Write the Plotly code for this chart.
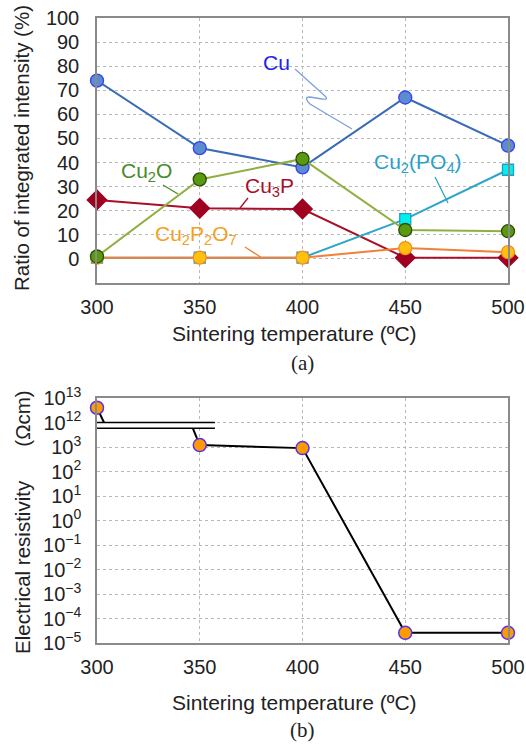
import plotly.graph_objects as go
import math

W, H = 526, 745

# ---------------- data ----------------
temps = [300, 350, 400, 450, 500]
cu = [74, 46, 38, 67, 47]
cu2o = [1, 33, 41.5, 12, 11.5]
cu3p = [24.5, 21, 20.7, 0.5, 0.5]
cu2po4 = [0.5, 0.5, 0.5, 16.5, 37]
cu2p2o7 = [0.5, 0.5, 0.5, 4.5, 2.8]

resist = [4e12, 1.2e3, 9e2, 2.6e-5, 2.6e-5]
ratio_ticks = list(range(0, 101, 10))
res_tick_exps = [-5, -4, -3, -2, -1, 0, 1, 2, 3, 12, 13]

# broken log axis: decades above the break are shifted down by 8
BREAK_SHIFT = 8
def pos(v):
    e = math.log10(v)
    return e - BREAK_SHIFT if e > 3.5 else e

def exp_pos(e):
    return e - BREAK_SHIFT if e > 3.5 else e

def sup(e):
    s = str(e).replace("-", "\u2212")
    return f"10<sup>{s}</sup>"

# pixel -> paper helpers
def px(x):
    return x / W
def py(y):
    return 1 - y / H

FONT = "Liberation Sans, Arial, sans-serif"

fig = go.Figure()

def add(y, name, lc, mfill, mline, sym, size):
    fig.add_trace(go.Scatter(
        x=temps, y=y, name=name, mode="lines+markers",
        line=dict(color=lc, width=2),
        marker=dict(symbol=sym, size=size, color=mfill, line=dict(color=mline, width=1.3)),
        xaxis="x", yaxis="y", showlegend=False, cliponaxis=False))

add(cu3p, "Cu3P", "#a8102a", "#a00020", "#a00020", "diamond", 15)
add(cu2po4, "Cu2(PO4)", "#2fa5c8", "#00f0f0", "#20a0c0", "square", 11)
add(cu2p2o7, "Cu2P2O7", "#f0803a", "#ffc010", "#f09020", "circle", 13)
add(cu, "Cu", "#3a6bb5", "#5b8bd0", "#3344ee", "circle", 13)
add(cu2o, "Cu2O", "#8fb040", "#5a9a10", "#2d4d05", "circle", 13)

# bottom chart
res_pos = [pos(v) for v in resist]
BREAK_HI = 4.0
BREAK_LO = 3.77
# line, interrupted by the axis break between 300 and 350
fig.add_trace(go.Scatter(
    x=[temps[0], 303.4, None, 346.6, temps[1]],
    y=[res_pos[0], BREAK_HI, None, BREAK_LO, res_pos[1]],
    mode="lines", line=dict(color="black", width=2),
    xaxis="x2", yaxis="y2", showlegend=False, cliponaxis=False))
fig.add_trace(go.Scatter(
    x=temps[1:], y=res_pos[1:], mode="lines",
    line=dict(color="black", width=2),
    xaxis="x2", yaxis="y2", showlegend=False, cliponaxis=False))
fig.add_trace(go.Scatter(
    x=temps, y=res_pos, mode="markers",
    marker=dict(symbol="circle", size=13, color="#ff9a00", line=dict(color="#5533ee", width=1.5)),
    xaxis="x2", yaxis="y2", showlegend=False, cliponaxis=False))

xdom = [px(97), px(508)]
axis_common = dict(
    showline=True, mirror=True, linecolor="#8a8a8a", linewidth=1.5,
    showgrid=True, gridcolor="#b8b8b8", griddash="dot", gridwidth=1,
    zeroline=False, ticks="", automargin=False,
    tickfont=dict(family=FONT, size=20, color="#222"),
)

fig.update_layout(
    width=W, height=H, margin=dict(l=0, r=0, t=0, b=0, autoexpand=False),
    paper_bgcolor="white", plot_bgcolor="white",
    xaxis=dict(domain=xdom, anchor="y", range=[300, 500], tickvals=temps,
               ticklabelstandoff=5, **axis_common),
    yaxis=dict(domain=[py(283), py(18)], anchor="x", range=[-10, 100],
               tickvals=ratio_ticks, ticklabelstandoff=12, **axis_common),
    xaxis2=dict(domain=xdom, anchor="y2", range=[300, 500], tickvals=temps,
                ticklabelstandoff=5, **axis_common),
    yaxis2=dict(domain=[py(643), py(398)], anchor="x2", range=[-5, 5],
                tickvals=[exp_pos(e) for e in res_tick_exps],
                ticktext=[sup(e) for e in res_tick_exps],
                ticklabelstandoff=10, **axis_common),
)

# axis break: white gap with two black lines
fig.add_shape(type="rect", xref="x2", yref="y2", x0=296.6, x1=357.4,
              y0=BREAK_LO, y1=BREAK_HI, fillcolor="white", line=dict(width=0), layer="above")
for yb in (BREAK_HI, BREAK_LO):
    fig.add_shape(type="line", xref="x2", yref="y2", x0=296.6, x1=357.4,
                  y0=yb, y1=yb, line=dict(color="black", width=1.5), layer="above")

# titles
def ann(text, x, y, size=21, color="#222", family=FONT, angle=0):
    fig.add_annotation(text=text, x=px(x), y=py(y), xref="paper", yref="paper",
                       showarrow=False, font=dict(family=family, size=size, color=color),
                       textangle=angle, xanchor="center", yanchor="middle")

ann("Ratio of integrated intensity (%)", 22, 148, size=20.5, angle=-90)
ann("Sintering temperature (\u00baC)", 294, 334)
ann("(a)", 302, 363, family="Liberation Serif, Times New Roman, serif")
ann("Electrical resistivity\u00a0\u00a0\u00a0\u00a0\u00a0 (\u03a9cm)", 22, 522, size=20.5, angle=-90)
ann("Sintering temperature (\u00baC)", 294, 702)
ann("(b)", 302, 730, family="Liberation Serif, Times New Roman, serif")

# series labels with callouts
ann("Cu", 276, 62, color="#2222ee")
ann("Cu<sub>2</sub>O", 146, 172, color="#4a8a2a")
ann("Cu<sub>3</sub>P", 269, 187, color="#a8102a")
ann("Cu<sub>2</sub>(PO<sub>4</sub>)", 418, 163, color="#2aa0cc")
ann("Cu<sub>2</sub>P<sub>2</sub>O<sub>7</sub>", 196, 235, color="#f5a020")

def seg(x0, y0, x1, y1, color):
    fig.add_shape(type="line", xref="paper", yref="paper",
                  x0=px(x0), y0=py(y0), x1=px(x1), y1=py(y1),
                  line=dict(color=color, width=1.3))

seg(163, 185, 178, 194, "#4a8a2a")
seg(248, 198, 240, 208, "#a8102a")
seg(435, 177, 448, 203, "#2aa0cc")
seg(245, 247, 262, 258, "#f08030")

# Cu squiggle callout
p = lambda x, y: f"{px(x):.5f},{py(y):.5f}"
path = (f"M {p(295,69)} L {p(325,96)} Q {p(329,100)} {p(322,99)} "
        f"L {p(310,97)} Q {p(303,97)} {p(310,104)} L {p(352,129)}")
fig.add_shape(type="path", xref="paper", yref="paper", path=path,
              line=dict(color="#7fa0dd", width=1.3))

fig.write_html("out.html")
